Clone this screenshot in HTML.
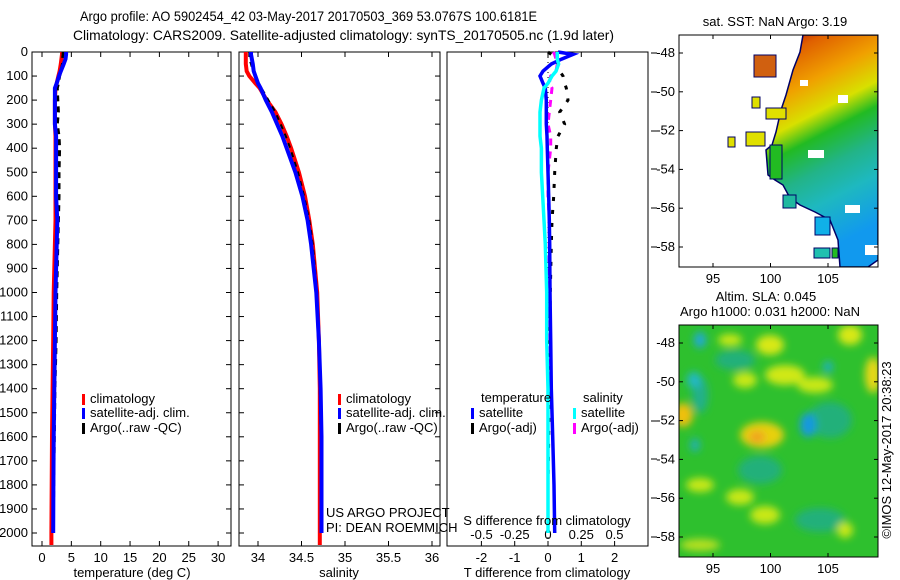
<!DOCTYPE html>
<html><head><meta charset="utf-8">
<style>
html,body{margin:0;padding:0;background:#fff;}
svg{display:block;font-family:"Liberation Sans",sans-serif;}
text{font-size:13px;fill:#000;}
.ttl{font-size:14px;}
</style></head>
<body>
<svg id="fig" width="900" height="580" viewBox="0 0 900 580" xmlns="http://www.w3.org/2000/svg">
<defs>
  <linearGradient id="sstGrad" x1="0" y1="0" x2="0.25" y2="1">
    <stop offset="0" stop-color="#a80000"/>
    <stop offset="0.12" stop-color="#e06000"/>
    <stop offset="0.28" stop-color="#f0a000"/>
    <stop offset="0.42" stop-color="#d8e000"/>
    <stop offset="0.52" stop-color="#22bb22"/>
    <stop offset="0.66" stop-color="#22b488"/>
    <stop offset="0.8" stop-color="#1eb8c0"/>
    <stop offset="1" stop-color="#1199ee"/>
  </linearGradient>
  <filter id="blur4" x="-50%" y="-50%" width="200%" height="200%"><feGaussianBlur stdDeviation="4"/></filter>
  <clipPath id="map2clip"><rect x="679" y="325" width="199" height="232"/></clipPath>
  <clipPath id="map1clip"><rect x="679" y="35" width="199" height="232"/></clipPath>
</defs>
<text class="ttl" x="80" y="21" textLength="457" lengthAdjust="spacingAndGlyphs">Argo profile: AO 5902454_42 03-May-2017 20170503_369 53.0767S 100.6181E</text>
<text class="ttl" x="73" y="40" textLength="541" lengthAdjust="spacingAndGlyphs">Climatology: CARS2009. Satellite-adjusted climatology: synTS_20170505.nc (1.9d later)</text>
<g id="p1"></g>
<g id="p2"></g>
<g id="p3"></g>

<g>
  <g clip-path="url(#map1clip)">
    <path d="M803,35 L878,35 L878,260 L868,267 L840,267 L838,240 L830,220 L815,212 L800,205 L790,198 L783,185 L775,180 L768,175 L766,150 L772,145 L776,132 L781,110 L786,95 L793,70 L800,52 Z" fill="url(#sstGrad)" stroke="#000066" stroke-width="1.5"/>
    <rect x="754" y="55" width="22" height="22" fill="#d06010" stroke="#000066"/>
    <rect x="752" y="97" width="8" height="11" fill="#e0e000" stroke="#000066"/>
    <rect x="766" y="108" width="20" height="11" fill="#e0e000" stroke="#000066"/>
    <rect x="728" y="137" width="7" height="10" fill="#e0e000" stroke="#000066"/>
    <rect x="746" y="132" width="19" height="14" fill="#e0e000" stroke="#000066"/>
    <rect x="770" y="145" width="12" height="34" fill="#22bb22" stroke="#000066"/>
    <rect x="783" y="195" width="13" height="13" fill="#20b8a0" stroke="#000066"/>
    <rect x="815" y="217" width="15" height="18" fill="#10b0e8" stroke="#000066"/>
    <rect x="814" y="248" width="16" height="10" fill="#20c0b0" stroke="#000066"/>
    <rect x="832" y="248" width="6" height="10" fill="#22bb22" stroke="#000066"/>
    <rect x="800" y="80" width="8" height="6" fill="#fff"/>
    <rect x="838" y="95" width="10" height="8" fill="#fff"/>
    <rect x="808" y="150" width="16" height="8" fill="#fff"/>
    <rect x="845" y="205" width="15" height="8" fill="#fff"/>
    <rect x="865" y="245" width="13" height="10" fill="#fff"/>
  </g>
  <rect x="679" y="35" width="199" height="232" fill="none" stroke="#000"/>
  <text x="775" y="26" text-anchor="middle">sat. SST: NaN Argo: 3.19</text>
  <g id="map1ticks"></g>
</g>

<g>
  <g clip-path="url(#map2clip)">
    <rect x="679" y="325" width="199" height="232" fill="#2ec02e"/>
    <g filter="url(#blur4)">
      <ellipse cx="700" cy="395" rx="8" ry="18" fill="#22b08a"/>
      <ellipse cx="735" cy="360" rx="20" ry="10" fill="#22b07a"/>
      <ellipse cx="830" cy="420" rx="22" ry="18" fill="#22b07a"/>
      <ellipse cx="760" cy="470" rx="22" ry="14" fill="#22b07a"/>
      <ellipse cx="820" cy="520" rx="25" ry="12" fill="#22b07a"/>
      <ellipse cx="730" cy="340" rx="12" ry="6" fill="#c8e818"/>
      <ellipse cx="770" cy="345" rx="14" ry="10" fill="#d8e818"/>
      <ellipse cx="745" cy="380" rx="12" ry="8" fill="#c8e818"/>
      <ellipse cx="785" cy="375" rx="20" ry="10" fill="#d0e818"/>
      <ellipse cx="815" cy="385" rx="18" ry="8" fill="#c8e818"/>
      <ellipse cx="850" cy="335" rx="12" ry="10" fill="#d8e818"/>
      <ellipse cx="873" cy="375" rx="8" ry="18" fill="#e8d818"/>
      <ellipse cx="683" cy="415" rx="10" ry="12" fill="#f0c010"/>
      <ellipse cx="762" cy="435" rx="22" ry="13" fill="#e8d010"/>
      <ellipse cx="757" cy="437" rx="8" ry="6" fill="#f0a020"/>
      <ellipse cx="700" cy="485" rx="14" ry="7" fill="#c8e818"/>
      <ellipse cx="740" cy="497" rx="14" ry="8" fill="#c8e818"/>
      <ellipse cx="765" cy="515" rx="15" ry="9" fill="#c8e818"/>
      <ellipse cx="845" cy="530" rx="8" ry="8" fill="#c8e818"/>
      <ellipse cx="700" cy="545" rx="20" ry="6" fill="#b8e020"/>
      <ellipse cx="700" cy="340" rx="6" ry="8" fill="#20a8d8"/>
      <ellipse cx="694" cy="380" rx="7" ry="8" fill="#20b8c8"/>
      <ellipse cx="808" cy="425" rx="8" ry="12" fill="#1898e0"/>
      <ellipse cx="828" cy="367" rx="5" ry="6" fill="#20b0c0"/>
      <ellipse cx="695" cy="445" rx="5" ry="7" fill="#20b0b0"/>
    </g>
  </g>
  <rect x="679" y="325" width="199" height="232" fill="none" stroke="#000"/>
  <text x="766" y="301" text-anchor="middle">Altim. SLA: 0.045</text>
  <text x="770" y="316" text-anchor="middle">Argo h1000: 0.031 h2000: NaN</text>
  <g id="map2ticks"></g>
</g>
<text transform="translate(891,450) rotate(-90)" text-anchor="middle">©IMOS 12-May-2017 20:38:23</text>
</svg>
<script>
const depths = [0,10,30,50,80,100,130,150,200,250,300,350,400,500,600,700,800,1000,1200,1400,1600,1800,2000,2050];
const tempClim = [3.4,3.4,3.3,3.2,3.0,2.8,2.5,2.3,2.2,2.2,2.2,2.3,2.3,2.3,2.3,2.3,2.2,2.0,1.9,1.8,1.7,1.65,1.6,1.6];
const tempSat = [4.1,4.1,4.0,3.7,3.2,2.9,2.5,2.2,2.2,2.2,2.2,2.4,2.4,2.4,2.4,2.6,2.5,2.3,2.2,2.1,2.0,1.95,1.9];
const tempArgo = [3.6,3.6,3.5,3.5,3.2,3.0,2.8,2.6,2.7,2.8,2.6,2.9,3.0,2.9,2.9,2.8,2.7,2.5,2.4,2.2,2.1,2.0,1.9];
const salClim = [33.86,33.86,33.86,33.86,33.87,33.9,33.97,34.02,34.1,34.2,34.27,34.33,34.38,34.47,34.54,34.59,34.63,34.68,34.7,34.71,34.71,34.71,34.71,34.71];
const salSat = [33.92,33.92,33.93,33.94,33.95,33.97,34.0,34.03,34.09,34.16,34.22,34.28,34.33,34.43,34.51,34.57,34.61,34.67,34.7,34.72,34.73,34.73,34.73];
const salArgo = [33.9,33.9,33.9,33.92,33.94,33.97,34.0,34.04,34.12,34.2,34.26,34.32,34.37,34.46,34.53,34.59,34.63,34.68,34.7,34.71,34.72,34.72,34.72];
const tDiffSat = [0.3,0.75,0.4,0.1,-0.15,-0.24,-0.15,-0.08,-0.05,-0.05,-0.05,-0.03,-0.02,0,0.02,0.04,0.05,0.06,0.08,0.1,0.14,0.18,0.2];
const tDiffArgo = [0,0.1,0.2,0.3,0.35,0.45,0.5,0.55,0.6,0.35,0.5,0.3,0.25,0.2,0.17,0.12,0.1,0.07,0.05,0.03,0.02,0.0,0];
const sDiffSat = [0.07,0.07,0.07,0.08,0.06,0.03,0,-0.03,-0.05,-0.06,-0.06,-0.06,-0.05,-0.05,-0.04,-0.03,-0.02,-0.01,-0.01,0,0,0,0];
const sDiffArgo = [0.04,0.05,0.06,0.07,0.06,0.02,0.01,0.03,0.02,0.01,0.0,0.02,0.02,0.0,0.0,0.01,0.01,0.0,0,0,0,0,0];
const depthTicks = [0,100,200,300,400,500,600,700,800,900,1000,1100,1200,1300,1400,1500,1600,1700,1800,1900,2000];
const tempTicks = [0,5,10,15,20,25,30];
const salTicks = [34,34.5,35,35.5,36];
const tDiffTicks = [-2,-1,0,1,2];
const sDiffTicks = [-0.5,-0.25,0,0.25,0.5];
const lonTicks = [95,100,105];
const latTicks = [-48,-50,-52,-54,-56,-58];

const NS='http://www.w3.org/2000/svg';
const TOP=52, BOT=546;
const yD = d => TOP + d*0.2405;
const xT = v => 42 + v*5.87;
const xS = v => 258 + (v-34)*87;
const xTD = v => 548 + v*33.3;
const xSD = v => 548 + v*133;
const lonX = v => 713 + (v-95)*11.5;
const lat1Y = v => 53 + (-48 - v)*19.4;
const lat2Y = v => 343 + (-48 - v)*19.4;

function mk(tag, attrs, parent){const e=document.createElementNS(NS,tag);for(const k in attrs)e.setAttribute(k,attrs[k]);parent.appendChild(e);return e;}
function txt(parent,x,y,s,anchor){const t=mk('text',{x:x,y:y,'text-anchor':anchor||'middle'},parent);t.textContent=s;return t;}

function line(parent, vals, xf, color, width, dash, name){
  let d='';
  vals.forEach((v,i)=>{d+=(i?'L':'M')+xf(v).toFixed(1)+','+yD(depths[i]).toFixed(1);});
  const p=mk('path',{d:d,fill:'none',stroke:color,'stroke-width':width},parent);
  if(dash)p.setAttribute('stroke-dasharray',dash);
  
  
}
function frame(g,x0,x1,name){
  const r=mk('rect',{x:x0,y:TOP,width:x1-x0,height:BOT-TOP,fill:'none',stroke:'#000'},g);
  
  
}
function xticks(g,ticks,xf,labelY,labels){
  const grp=mk('g',{},g);
  
  
  ticks.forEach(t=>{
    const x=xf(t);
    mk('line',{x1:x,x2:x,y1:TOP,y2:TOP+5,stroke:'#000'},grp);
    mk('line',{x1:x,x2:x,y1:BOT,y2:BOT-5,stroke:'#000'},grp);
    if(labels) txt(grp,x,labelY,String(t));
  });
}
function yticks(g,x0,x1,labels){
  const grp=mk('g',{},g);
  
  
  depthTicks.forEach(d=>{
    const y=yD(d);
    mk('line',{x1:x0,x2:x0+5,y1:y,y2:y,stroke:'#000'},grp);
    mk('line',{x1:x1,x2:x1-5,y1:y,y2:y,stroke:'#000'},grp);
    if(labels) txt(grp,28,y+4,String(d),'end');
  });
}
function legendItem(g,x,y,color,label){
  const r=mk('rect',{x:x,y:y-9,width:3,height:11,fill:color},g);
  
  
  const t=txt(g,x+8,y,label,'start');
  
  
}

const p1=document.getElementById('p1');
frame(p1,32,231,'temperature-axes-frame');
yticks(p1,32,231,true);
xticks(p1,tempTicks,xT,562,true);
line(p1,tempClim,xT,'#ff0000',4,null,'temp-climatology-line');
line(p1,tempArgo,xT,'#000',3,'6,5','temp-argo-line');
line(p1,tempSat,xT,'#0000ff',4,null,'temp-satellite-line');
legendItem(p1,82,403,'#ff0000','climatology');
legendItem(p1,82,417,'#0000ff','satellite-adj. clim.');
legendItem(p1,82,432,'#000','Argo(..raw -QC)');
const xl1=txt(p1,132,577,'temperature (deg C)');



const p2=document.getElementById('p2');
frame(p2,239,440,'salinity-axes-frame');
yticks(p2,239,440,false);
xticks(p2,salTicks,xS,562,true);
line(p2,salClim,xS,'#ff0000',4,null,'sal-climatology-line');
line(p2,salArgo,xS,'#000',2,'5,5','sal-argo-line');
line(p2,salSat,xS,'#0000ff',4,null,'sal-satellite-line');
legendItem(p2,338,403,'#ff0000','climatology');
legendItem(p2,338,417,'#0000ff','satellite-adj. clim.');
legendItem(p2,338,432,'#000','Argo(..raw -QC)');
const xl2=txt(p2,339,577,'salinity');


const c1=txt(p2,326,517,'US ARGO PROJECT','start');


const c2=txt(p2,326,532,'PI: DEAN ROEMMICH','start');



const p3=document.getElementById('p3');
frame(p3,447,648,'difference-axes-frame');
xticks(p3,tDiffTicks,xTD,562,true);
const sg=mk('g',{},p3);


sDiffTicks.forEach(t=>txt(sg,xSD(t),539,String(t)));
mk('line',{x1:548,x2:548,y1:TOP,y2:BOT,stroke:'#000','stroke-dasharray':'1,4'},p3);
[53,92,131,169,208,247,421,459,498,537].forEach(y=>mk('line',{x1:651,x2:657,y1:y,y2:y,stroke:'#000'},p3));
line(p3,tDiffArgo,xTD,'#000',3,'4,9','t-diff-argo-line');
line(p3,sDiffArgo,xSD,'#ff00ff',3,'7,6','s-diff-argo-line');
line(p3,tDiffSat,xTD,'#0000ff',3.5,null,'t-diff-satellite-line');
line(p3,sDiffSat,xSD,'#00ffff',3.5,null,'s-diff-satellite-line');
txt(p3,481,402,'temperature','start');
txt(p3,583,402,'salinity','start');
legendItem(p3,471,417,'#0000ff','satellite');
legendItem(p3,471,432,'#000','Argo(-adj)');
legendItem(p3,573,417,'#00ffff','satellite');
legendItem(p3,573,432,'#ff00ff','Argo(-adj)');
const sdt=txt(p3,547,525,'S difference from climatology');


const tdt=txt(p3,547,577,'T difference from climatology');



function mapTicks(gid,y0,y1,latY){
  const g=document.getElementById(gid);
  lonTicks.forEach(l=>{const x=lonX(l);
    mk('line',{x1:x,x2:x,y1:y0,y2:y0+4,stroke:'#000'},g);
    mk('line',{x1:x,x2:x,y1:y1,y2:y1-4,stroke:'#000'},g);
    txt(g,x,y1+16,String(l));});
  latTicks.forEach(l=>{const y=latY(l);
    mk('line',{x1:679,x2:683,y1:y,y2:y,stroke:'#000'},g);
    mk('line',{x1:878,x2:874,y1:y,y2:y,stroke:'#000'},g);
    txt(g,675,y+4,String(l),'end');});
}
mapTicks('map1ticks',35,267,lat1Y);
mapTicks('map2ticks',325,557,lat2Y);
</script>
</body></html>
